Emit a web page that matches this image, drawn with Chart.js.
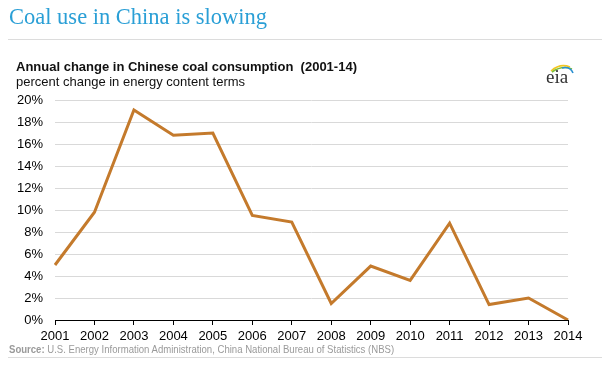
<!DOCTYPE html>
<html>
<head>
<meta charset="utf-8">
<script src="https://cdn.jsdelivr.net/npm/chart.js@4"></script>
<style>
  html, body { margin: 0; padding: 0; background: #fff; }
  #wrap { position: relative; width: 602px; height: 366px; overflow: hidden; font-family: "Liberation Sans", Arial, sans-serif; }
  #chart { position: absolute; left: 0; top: 0; }
  .txt { position: absolute; white-space: nowrap; }
  #title { left: 9px; top: 4px; font-family: "Liberation Serif", "Times New Roman", serif; font-size: 22.5px; color: #2a9fd6; }
  #rule1 { position: absolute; left: 8px; right: 0; top: 39px; height: 1px; background: #dcdcdc; }
  #sub1 { left: 16px; top: 59px; font-size: 13px; font-weight: bold; color: #111; }
  #sub2 { left: 16px; top: 74px; font-size: 13px; color: #111; }
  #source { left: 9px; top: 343px; font-size: 11px; color: #9a9a9a; transform: scaleX(0.87); transform-origin: left top; }
  #rule2 { position: absolute; left: 8px; right: 0; top: 357px; height: 1px; background: #dcdcdc; }
  #eia { left: 546px; top: 66px; font-family: "Liberation Serif", serif; font-size: 19px; color: #333; }
  #arc { position: absolute; left: 548px; top: 62px; }
</style>
</head>
<body>
<div id="wrap">
  <canvas id="chart" width="602" height="366"></canvas>
  <div class="txt" id="title">Coal use in China is slowing</div>
  <div id="rule1"></div>
  <div class="txt" id="sub1">Annual change in Chinese coal consumption &nbsp;(2001-14)</div>
  <div class="txt" id="sub2">percent change in energy content terms</div>
  <svg id="arc" width="28" height="12" viewBox="0 0 28 12">
    <path d="M3 9 Q12 1 22 5" stroke="#f2c624" stroke-width="1.6" fill="none"/>
    <path d="M4 10 Q14 3 24 7" stroke="#7cbf3a" stroke-width="1.6" fill="none"/>
    <path d="M14 6 Q22 4 25 11" stroke="#2a8fd0" stroke-width="1.6" fill="none"/>
  </svg>
  <div class="txt" id="eia">eia</div>
  <div class="txt" id="source"><b>Source:</b> U.S. Energy Information Administration, China National Bureau of Statistics (NBS)</div>
  <div id="rule2"></div>
</div>
<script>
const years = ["2001", "2002", "2003", "2004", "2005", "2006", "2007", "2008", "2009", "2010", "2011", "2012", "2013", "2014"];
const coalChange = [5.0, 9.8, 19.1, 16.8, 17.0, 9.5, 8.9, 1.5, 4.9, 3.6, 8.8, 1.4, 2.0, 0.0];
const yTicks = [0, 2, 4, 6, 8, 10, 12, 14, 16, 18, 20];

const tickFont = { family: "'Liberation Sans', Arial, sans-serif", size: 13 };

const ctx = document.getElementById("chart").getContext("2d");
new Chart(ctx, {
  type: "line",
  data: {
    labels: years,
    datasets: [
      {
        data: coalChange,
        borderColor: "#c47a2c",
        borderWidth: 3,
        pointRadius: 0,
        tension: 0,
        fill: false,
      },
    ],
  },
  options: {
    responsive: false,
    animation: false,
    layout: { padding: { top: 100, right: 34, bottom: 0, left: 0 } },
    plugins: {
      legend: { display: false },
      tooltip: { enabled: false },
    },
    scales: {
      x: {
        offset: false,
        grid: { drawOnChartArea: false, drawTicks: true, tickLength: 5, color: "#000" },
        border: { display: true, color: "#000", width: 1 },
        ticks: { color: "#000", font: tickFont, padding: 4, maxRotation: 0, autoSkip: false },
        afterFit: (scale) => { scale.height = 46; },
      },
      y: {
        min: 0,
        max: 20,
        afterBuildTicks: (scale) => { scale.ticks = yTicks.map((v) => ({ value: v })); },
        grid: { color: "#d9d9d9", drawTicks: false, lineWidth: 1 },
        border: { display: false },
        ticks: { color: "#000", font: tickFont, padding: 12, callback: (v) => v + "%" },
        afterFit: (scale) => { scale.width = 55; },
      },
    },
  },
});
</script>
</body>
</html>
